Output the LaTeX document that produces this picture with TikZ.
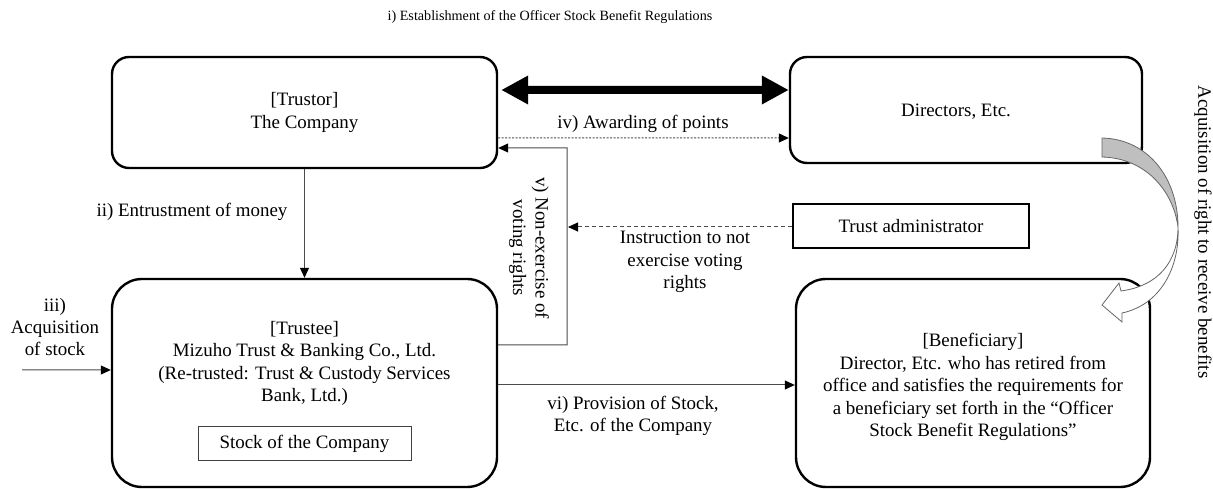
\documentclass[tikz,border=0pt]{standalone}
\usepackage{fontspec}
\setmainfont{Liberation Serif}
\usetikzlibrary{arrows.meta}
\begin{document}
\begin{tikzpicture}[x=1bp,y=-1bp,
  every node/.style={font=\fontsize{19}{22.5}\selectfont, inner sep=0pt, align=center},
  bigbox/.style={draw=black, line width=2.4bp, rounded corners=30bp},
  smallrbox/.style={draw=black, line width=2.4bp, rounded corners=17bp},
  plainbox/.style={draw=black, line width=1.8bp},
  thinbox/.style={draw=black!75, line width=1bp},
  conn/.style={draw=black!70, line width=1bp, -{Triangle[length=10bp,width=9bp,fill=black,color=black]}},
  lbl/.style={},
]
\useasboundingbox (0,0) rectangle (1213,489);

% boxes
\node[smallrbox, minimum width=385bp, minimum height=111bp] (trustor) at (304.5,112.5) {[Trustor]\\The Company};
\node[smallrbox, minimum width=352bp, minimum height=106bp] (directors) at (966,110) {};
\node (dirtext) at (956,112) {Directors, Etc.};
\node[bigbox, minimum width=385bp, minimum height=208bp] (trustee) at (304.5,383) {};
\node (trusteetext) at (304.5,363.5) {[Trustee]\\Mizuho Trust \& Banking Co., Ltd.\\(Re-trusted: Trust \& Custody Services\\Bank, Ltd.)};
\node[thinbox, minimum width=213bp, minimum height=33bp] (stock) at (304.5,443.5) {Stock of the Company};
\node[bigbox, minimum width=354bp, minimum height=208bp] (benef) at (973,383) {};
\node (beneftext) at (973,387) {[Beneficiary]\\Director, Etc. who has retired from\\office and satisfies the requirements for\\a beneficiary set forth in the “Officer\\Stock Benefit Regulations”};
\node[plainbox, minimum width=236bp, minimum height=44bp] (admin) at (911,226) {Trust administrator};

% labels
\node[font=\fontsize{14.2}{17}\selectfont] (title) at (550,17) {i) Establishment of the Officer Stock Benefit Regulations};
\node (lbliv) at (643,124) {iv) Awarding of points};
\node (lblii) at (192,212) {ii) Entrustment of money};
\node (lbliii) at (55,327) {iii)\\Acquisition\\of stock};
\node (lblvi) at (633,416) {vi) Provision of Stock,\\Etc. of the Company};
\node (lblinst) at (685,262) {Instruction to not\\exercise voting\\rights};
\node[rotate=-90] (lblv) at (529,248) {v) Non-exercise of\\voting rights};
\node[rotate=-90] (lblacq) at (1203,232) {Acquisition of right to receive benefits};

% connectors
\draw[line width=8bp, {Triangle[length=27bp,width=27bp]}-{Triangle[length=27bp,width=27bp]}]
  ([xshift=3bp,yshift=22.5bp]trustor.east) -- ([yshift=20bp]directors.west);
\draw[conn, densely dashed, dash pattern=on 2bp off 1.5bp] ([yshift=-25.5bp]trustor.east) -- ([yshift=-28bp]directors.west);
\draw[conn] (trustor.south) -- (trustee.north);
\coordinate (iiistart) at (22,370);
\draw[conn] (iiistart) -- ([yshift=13bp]trustee.west);
\draw[conn] ([yshift=38bp]trustee.east) -- (567,345) |- ([yshift=-35.5bp]trustor.east);
\coordinate (vline) at (568,227);
\draw[conn, dash pattern=on 4bp off 3bp] ([yshift=-1bp]admin.west) -- (vline);
\draw[conn] ([yshift=-2bp]trustee.east) -- ([yshift=-2bp]benef.west);

% curved arrow
\draw[black!60, line width=0.8bp, fill=black!25]
  (1102,138) .. controls (1148,139) and (1178,178) .. (1178,227)
  .. controls (1173,190) and (1145,158) .. (1102,157) -- cycle;
\draw[black!60, line width=0.8bp, fill=white]
  (1178,227) .. controls (1178,262) and (1158,286) .. (1121,291)
  -- (1119,283) -- (1102,305) -- (1122,322) -- (1122,313)
  .. controls (1160,305) and (1180,268) .. (1178,227);
\end{tikzpicture}
\end{document}
